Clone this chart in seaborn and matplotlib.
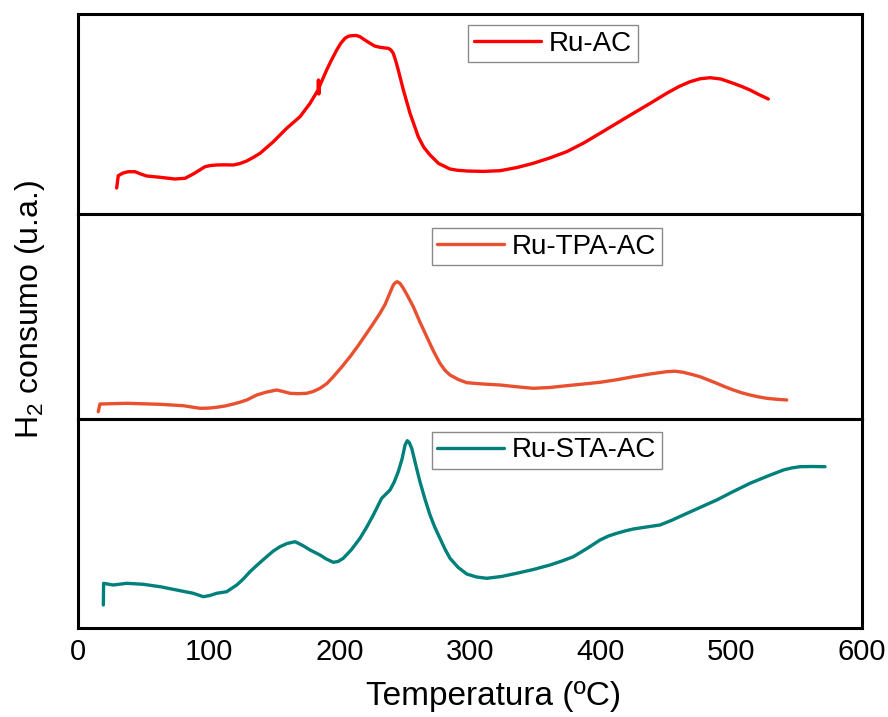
import numpy as np
import pandas as pd
import matplotlib
matplotlib.use("Agg")
import matplotlib.pyplot as plt
import seaborn as sns

# TPR profiles: temperature (ºC) and H2 consumption signal (arbitrary units)
temp_ru_ac = [29.6, 30.8, 34.5, 38.5, 43.6, 48.0, 52.6, 62.8, 74.2, 81.9, 88.2, 92.5,
              97.2, 101.5, 106.1, 112.0, 118.9, 124.0, 129.1, 134.0, 139.3, 149.5,
              159.7, 169.9, 177.6, 183.7, 184.0, 184.3, 184.6, 190.3, 194.0, 198.0,
              201.0, 204.3, 207.0, 209.5, 213.0, 215.8, 219.5, 223.5, 227.0, 231.1,
              235.0, 237.5, 239.5, 241.3, 243.2, 245.1, 249.0, 254.1, 260.4, 264.5,
              269.4, 276.0, 284.7, 290.0, 297.5, 310.0, 323.0, 336.0, 348.4, 361.0,
              374.0, 387.0, 399.5, 412.0, 425.0, 437.7, 450.5, 460.0, 468.4, 476.0,
              483.7, 492.0, 501.5, 508.0, 514.3, 521.0, 528.3]
h2_ru_ac = [26.0, 38.3, 41.0, 42.3, 42.3, 40.0, 38.0, 36.7, 35.0, 35.7, 40.0, 43.5,
            47.3, 48.5, 49.0, 49.2, 49.0, 50.5, 53.0, 56.5, 60.7, 72.3,
            85.7, 97.3, 110.7, 124.0, 134.0, 120.0, 127.0, 144.0, 154.0, 164.0,
            170.5, 175.7, 177.8, 178.3, 178.5, 177.3, 174.0, 170.7, 168.0, 166.7,
            166.0, 165.7, 164.0, 160.7, 153.0, 144.0, 124.0, 100.7, 77.3, 67.0,
            59.0, 50.5, 45.0, 43.8, 43.0, 42.6, 43.3, 46.5, 50.7, 56.0,
            62.3, 71.0, 80.7, 90.5, 100.7, 110.5, 120.7, 127.5, 132.3, 135.2,
            136.3, 135.0, 130.7, 127.5, 124.0, 119.5, 115.0]

temp_ru_tpa = [15.5, 16.8, 37.3, 62.8, 80.6, 87.0, 93.4, 100.0, 106.1, 112.5, 118.9,
               124.0, 129.1, 136.8, 144.5, 152.1, 157.0, 162.2, 168.5, 175.0, 180.0,
               185.2, 190.5, 195.4, 201.5, 208.2, 214.5, 220.9, 226.0, 231.1, 235.0,
               237.5, 239.5, 241.3, 243.0, 244.4, 246.5, 249.0, 252.5, 256.6, 261.5,
               266.9, 272.0, 277.0, 281.0, 284.7, 291.0, 297.5, 310.0, 323.0, 336.0,
               348.4, 361.0, 374.0, 387.0, 399.5, 412.0, 425.0, 437.7, 450.5, 457.0,
               463.2, 470.0, 476.0, 482.5, 488.8, 495.0, 501.5, 508.0, 514.3, 520.5,
               527.1, 535.0, 542.4]
h2_ru_tpa = [7.3, 15.0, 15.7, 14.7, 13.3, 12.0, 10.7, 10.9, 11.7, 13.0, 15.0,
             16.8, 19.0, 24.0, 27.0, 29.0, 27.5, 25.7, 25.3, 25.7, 27.5,
             30.7, 35.5, 42.3, 51.5, 62.3, 73.5, 85.7, 95.5, 105.7, 114.5,
             122.3, 128.5, 134.0, 136.5, 137.3, 135.5, 130.7, 122.5, 112.3, 97.5,
             82.3, 68.0, 55.7, 48.5, 44.0, 39.5, 36.3, 35.0, 34.0, 32.2,
             30.7, 31.5, 33.3, 35.0, 36.7, 39.2, 42.3, 45.0, 47.3, 47.8,
             46.7, 44.5, 42.3, 39.0, 35.7, 32.3, 29.0, 26.2, 24.0, 22.2,
             20.7, 19.7, 19.0]

temp_ru_sta = [19.4, 19.6, 27.0, 37.3, 50.0, 62.8, 75.5, 88.2, 95.9, 101.0, 106.1,
               113.8, 121.5, 126.5, 131.6, 138.0, 144.4, 149.5, 154.6, 160.0, 166.1,
               172.0, 177.6, 185.2, 190.0, 195.4, 199.0, 203.0, 209.0, 215.8, 221.0,
               226.0, 232.4, 238.8, 242.0, 245.1, 248.0, 250.3, 252.0, 253.5, 255.4,
               258.5, 261.7, 265.5, 269.4, 273.0, 277.0, 281.0, 284.7, 291.0, 297.5,
               305.0, 312.8, 324.0, 335.7, 348.5, 361.2, 370.0, 379.1, 389.5, 399.5,
               406.0, 412.3, 418.5, 425.0, 435.0, 445.4, 454.0, 463.2, 476.0, 488.8,
               501.5, 514.3, 527.0, 539.8, 546.0, 552.5, 562.0, 571.7]
h2_ru_sta = [23.0, 44.7, 43.0, 44.7, 43.7, 41.3, 38.0, 34.7, 31.3, 32.5, 34.7,
             36.3, 43.0, 49.0, 56.3, 64.0, 71.3, 77.0, 81.3, 84.5, 86.3,
             82.5, 78.0, 73.0, 69.0, 65.7, 66.5, 69.7, 78.0, 89.7, 101.0,
             113.0, 129.7, 138.0, 146.0, 156.3, 169.0, 183.0, 187.3, 185.5, 179.7,
             163.0, 146.3, 129.0, 113.0, 101.0, 89.7, 78.5, 69.7, 60.5, 54.0,
             51.0, 49.7, 51.5, 54.7, 58.5, 63.0, 66.8, 71.3, 79.5, 88.0,
             92.0, 94.7, 97.0, 99.0, 101.0, 103.0, 107.5, 113.0, 120.5, 128.0,
             136.5, 144.7, 151.5, 158.0, 160.0, 161.3, 161.5, 161.3]

series_names = ["Ru-AC", "Ru-TPA-AC", "Ru-STA-AC"]
series_colors = ["#FF0000", "#E9502F", "#00807A"]
x_ticks = [0, 100, 200, 300, 400, 500, 600]

sns.set_theme(style="white")
plt.rcParams["font.family"] = ["Liberation Sans", "DejaVu Sans"]
plt.rcParams["mathtext.fontset"] = "custom"
plt.rcParams["mathtext.rm"] = "Liberation Sans"
plt.rcParams["mathtext.default"] = "rm"
plt.rcParams["text.color"] = "black"
plt.rcParams["axes.labelcolor"] = "black"
plt.rcParams["xtick.color"] = "black"
plt.rcParams["lines.solid_joinstyle"] = "round"
plt.rcParams["lines.solid_capstyle"] = "round"

panel_tops = [200, 205, 209]
fig, axes = plt.subplots(3, 1, figsize=(8.88, 7.17), dpi=100, sharex=True,
                         gridspec_kw={"height_ratios": panel_tops, "hspace": 0})
fig.subplots_adjust(left=78 / 888, right=862 / 888, top=1 - 14 / 717, bottom=1 - 628 / 717)

data = [(temp_ru_ac, h2_ru_ac), (temp_ru_tpa, h2_ru_tpa), (temp_ru_sta, h2_ru_sta)]
legend_anchor = [(0.498, 0.945), (0.451, 0.930), (0.451, 0.939)]

for ax, (t, h), name, col, top, anc in zip(axes, data, series_names, series_colors,
                                           panel_tops, legend_anchor):
    df = pd.DataFrame({"Temperatura": t, "H2": h})
    sns.lineplot(data=df, x="Temperatura", y="H2", ax=ax, color=col, lw=2.4,
                 sort=False, estimator=None, label=name)
    ax.set_ylim(0, top)
    ax.set_xlim(0, 600)
    ax.set_yticks([])
    ax.set_ylabel("")
    ax.set_xlabel("")
    for sp in ax.spines.values():
        sp.set_visible(True)
        sp.set_color("black")
        sp.set_linewidth(2.2)
    leg = ax.legend(loc="upper left", bbox_to_anchor=anc, borderaxespad=0,
                    fontsize=20, frameon=True, fancybox=False, framealpha=1,
                    handlelength=2.4, handletextpad=0.3, borderpad=0.2)
    leg.get_frame().set_edgecolor("#8a8a8a")
    leg.get_frame().set_linewidth(1.0)
    for txt in leg.get_texts():
        txt.set_color("black")
    for ln in leg.get_lines():
        ln.set_linewidth(2.4)

ax = axes[-1]
ax.set_xticks(x_ticks)
ax.set_xticklabels([str(v) for v in x_ticks], fontsize=21)
ax.tick_params(axis="x", length=0, pad=7, colors="black")
ax.set_xlabel("Temperatura (ºC)", fontsize=24, labelpad=11, color="black")
ax.xaxis.label.set_x(0.53)

fig.text(30 / 888, 1 - 309 / 717, r"H$_2$ consumo (u.a.)", rotation=90,
         ha="center", va="center", fontsize=23, color="black")

fig.savefig("out.png", dpi=100)
